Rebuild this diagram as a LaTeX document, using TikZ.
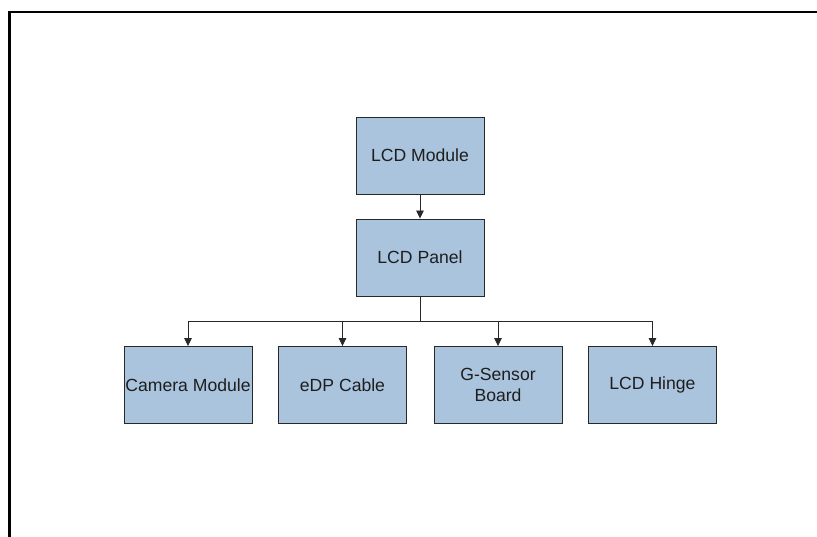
\documentclass[tikz,border=0pt]{standalone}
\usepackage{fontspec}
\setmainfont{Liberation Sans}
\usetikzlibrary{arrows.meta}
\definecolor{boxfill}{RGB}{170,196,222}
\definecolor{boxline}{RGB}{40,40,40}
\definecolor{txt}{RGB}{30,30,30}
\tikzset{
  blk/.style={draw=boxline, line width=0.9pt, fill=boxfill, minimum width=128pt, minimum height=77pt, inner sep=0pt, align=center, font=\fontsize{17.6}{21}\selectfont, text=txt},
  conn/.style={draw=boxline, line width=0.8pt},
  arr/.style={conn, -{Triangle[width=7.5pt,length=8pt]}}
}
\begin{document}
\begin{tikzpicture}[x=1pt,y=-1pt]
\useasboundingbox (0,0) rectangle (817,537);
\draw[line width=2.7pt, line cap=rect] (9.3,540) -- (9.3,12) -- (820,12);
\node[blk] (mod) at (420,155.5) {LCD Module};
\node[blk] (pan) at (420,257.5) {LCD Panel};
\node[blk] (cam) at (188,385) {Camera Module};
\node[blk] (edp) at (342.5,385) {eDP Cable};
\node[blk] (gs) at (498,385) {G-Sensor\\Board};
\node[blk] (hin) at (652.5,385) {LCD Hinge};
\coordinate (bus) at (420,321);
\draw[arr] (mod) -- (pan);
\draw[conn] (pan.south) -- (bus);
\draw[conn] (cam.north |- bus) -- (hin.north |- bus);
\foreach \n in {cam,edp,gs,hin}
  \draw[arr] (\n.north |- bus) -- (\n.north);
\end{tikzpicture}
\end{document}
